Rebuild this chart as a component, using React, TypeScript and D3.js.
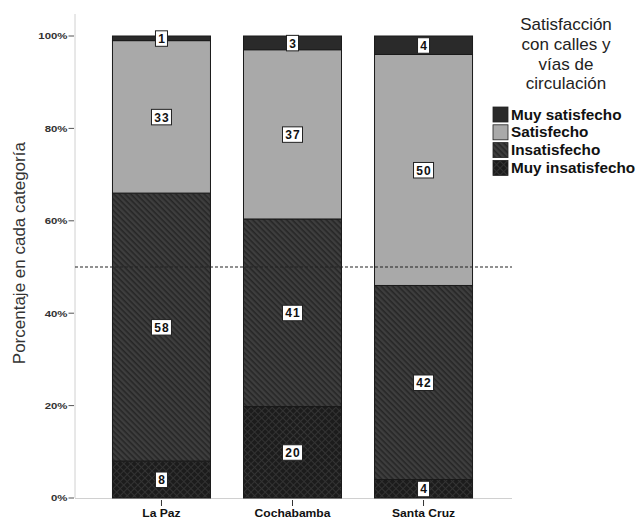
import React from 'react';
import * as d3 from 'd3';

const categories = ['La Paz', 'Cochabamba', 'Santa Cruz'];
const levels = ['muyInsatisfecho', 'insatisfecho', 'satisfecho', 'muySatisfecho'];
const muyInsatisfecho = [8, 20, 4];
const insatisfecho = [58, 41, 42];
const satisfecho = [33, 37, 50];
const muySatisfecho = [1, 3, 4];
const yTicks = [0, 20, 40, 60, 80, 100];
const legendTitle = ['Satisfacción', 'con calles y', 'vías de', 'circulación'];
const legendLabels = ['Muy satisfecho', 'Satisfecho', 'Insatisfecho', 'Muy insatisfecho'];
const legendKeys = ['muySatisfecho', 'satisfecho', 'insatisfecho', 'muyInsatisfecho'];

const W = 644, H = 519;
const FONT = '"Liberation Sans", Arial, Helvetica, sans-serif';

const fills: Record<string, string> = {
  muySatisfecho: '#2a2a2a',
  satisfecho: '#a9a9a9',
  insatisfecho: 'url(#pat-insat)',
  muyInsatisfecho: 'url(#pat-muyinsat)',
};

export default function App() {
  const rows = categories.map((c, i) => {
    const raw = {
      muyInsatisfecho: muyInsatisfecho[i],
      insatisfecho: insatisfecho[i],
      satisfecho: satisfecho[i],
      muySatisfecho: muySatisfecho[i],
    } as Record<string, number>;
    const tot = d3.sum(levels, (k) => raw[k]);
    const norm: Record<string, any> = { cat: c };
    levels.forEach((k) => (norm[k] = (raw[k] / tot) * 100));
    norm.raw = raw;
    return norm;
  });
  const series = d3.stack<any>().keys(levels)(rows);

  const x = d3.scaleBand<string>().domain(categories).range([75, 510]).paddingInner(0.252).paddingOuter(0.286);
  const y = d3.scaleLinear().domain([0, 100]).range([498, 36]);

  return (
    <svg width={W} height={H} style={{ position: 'absolute', left: 0, top: 0, background: '#fff' }} fontFamily={FONT}>
      <defs>
        <pattern id="pat-insat" patternUnits="userSpaceOnUse" width="4" height="4" patternTransform="rotate(45)">
          <rect width="4" height="4" fill="#3e3e3e" />
          <rect width="4" height="1.6" fill="#262626" />
        </pattern>
        <pattern id="pat-muyinsat" patternUnits="userSpaceOnUse" width="5" height="5" patternTransform="rotate(45)">
          <rect width="5" height="5" fill="#1c1c1c" />
          <rect width="5" height="1" fill="#333" />
          <rect width="1" height="5" fill="#333" />
        </pattern>
      </defs>

      {/* axes */}
      <line x1={75} x2={75} y1={14} y2={498} stroke="#d0d0d0" />
      <line x1={75} x2={512} y1={498.5} y2={498.5} stroke="#d0d0d0" />

      {yTicks.map((t) => (
        <g key={t}>
          <text transform={`translate(67.5,${y(t) + 3.3}) scale(1.2,1)`} textAnchor="end" fontSize={9.5} fontWeight="bold" fill="#333">{t}%</text>
          <line x1={68.5} x2={74} y1={y(t)} y2={y(t)} stroke="#555" />
        </g>
      ))}

      <text transform={`translate(25,${y(53)}) rotate(-90)`} textAnchor="middle" fontSize={17} fill="#333">
        Porcentaje en cada categoría
      </text>

      {/* bars */}
      {series.map((s) => (
        <g key={s.key}>
          {s.map((d: any) => (
            <rect
              key={d.data.cat}
              x={x(d.data.cat)}
              y={y(d[1])}
              width={x.bandwidth()}
              height={y(d[0]) - y(d[1])}
              fill={fills[s.key]}
              stroke="#1a1a1a"
              strokeWidth={1}
            />
          ))}
        </g>
      ))}

      {/* reference line */}
      <line x1={75} x2={512} y1={y(50)} y2={y(50)} stroke="#222" strokeWidth={1.2} strokeDasharray="3,2" />

      {/* labels */}
      {series.map((s) => (
        <g key={'l' + s.key}>
          {s.map((d: any) => {
            const txt = String(d.data.raw[s.key]);
            const cx = x(d.data.cat)! + x.bandwidth() / 2;
            const cy = (y(d[0]) + y(d[1])) / 2;
            const bw = txt.length === 1 ? 12 : 20;
            return (
              <g key={d.data.cat}>
                <rect x={cx - bw / 2} y={cy - 7.5} width={bw} height={15.5} fill="#fff" stroke="#222" strokeWidth={1} />
                <text x={cx + (txt.length > 1 ? 0.5 : 0)} y={cy + 4.7} textAnchor="middle" fontSize={12} fontWeight="bold" letterSpacing={txt.length > 1 ? 1 : 0} fill="#111">
                  {txt}
                </text>
              </g>
            );
          })}
        </g>
      ))}

      {/* x ticks */}
      {categories.map((c) => {
        const cx = x(c)! + x.bandwidth() / 2;
        return (
          <g key={c}>
            <line x1={cx} x2={cx} y1={500} y2={506} stroke="#333" />
            <text transform={`translate(${cx},517) scale(1.1,1)`} textAnchor="middle" fontSize={11} fontWeight="bold" fill="#111">{c}</text>
          </g>
        );
      })}

      {/* legend */}
      {legendTitle.map((t, i) => (
        <text key={t} x={566} y={30 + i * 19.8} textAnchor="middle" fontSize={17} fill="#222">{t}</text>
      ))}
      {legendKeys.map((k, i) => (
        <g key={k} transform={`translate(493,${107 + i * 17.8})`}>
          <rect width={15} height={15} fill={fills[k]} stroke="#222" strokeWidth={0.8} />
          <text x={18} y={12.5} fontSize={15.3} fontWeight="bold" fill="#111">{legendLabels[i]}</text>
        </g>
      ))}
    </svg>
  );
}
